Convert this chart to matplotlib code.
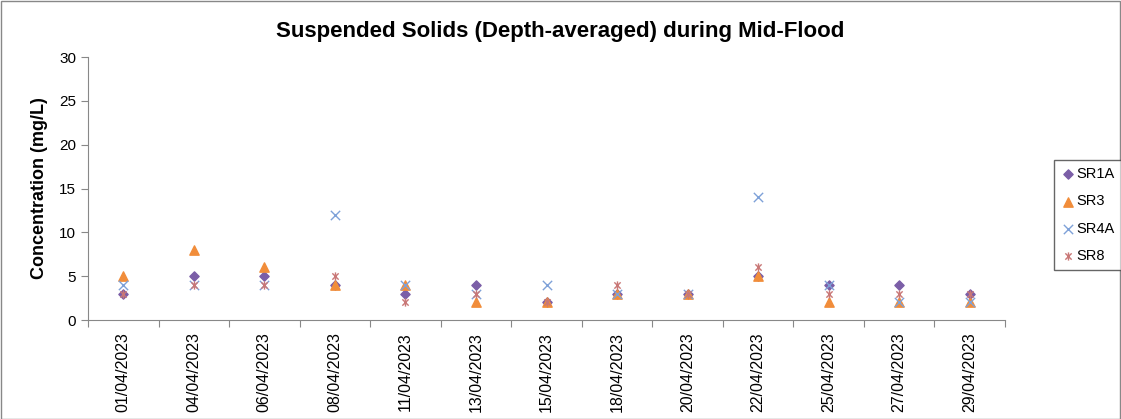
import numpy as np
import matplotlib
matplotlib.use('Agg')
import matplotlib.pyplot as plt
from matplotlib.path import Path
from matplotlib.patches import Rectangle

# ========================= DADOS =========================
dates = ["01/04/2023", "04/04/2023", "06/04/2023", "08/04/2023", "11/04/2023",
         "13/04/2023", "15/04/2023", "18/04/2023", "20/04/2023", "22/04/2023",
         "25/04/2023", "27/04/2023", "29/04/2023"]
sr1a = [3, 5, 5, 4, 3, 4, 2, 3, 3, 5, 4, 4, 3]
sr3 = [5, 8, 6, 4, 4, 2, 2, 3, 3, 5, 2, 2, 2]
sr4a = [4, 4, 4, 12, 4, 3, 4, 3, 3, 14, 4, 2, 2]
sr8 = [3, 4, 4, 5, 2, 3, 2, 4, 3, 6, 3, 3, 3]

# Excel "star" marker: x com traço vertical
star = Path([(-1, -1), (1, 1), (-1, 1), (1, -1), (0, -1.3), (0, 1.3)],
            [Path.MOVETO, Path.LINETO, Path.MOVETO, Path.LINETO, Path.MOVETO, Path.LINETO])

plt.rcParams['font.family'] = ['Liberation Sans', 'DejaVu Sans']

fig = plt.figure(figsize=(11.21, 4.19), dpi=100)
ax = fig.add_axes([88 / 1121, 1 - 320 / 419, 917 / 1121, 263 / 419])

x = np.arange(len(dates))
ax.scatter(x, sr1a, marker='D', s=22, color='#7B5EA7', label='SR1A', zorder=3)
ax.scatter(x, sr3, marker='^', s=45, color='#F18D3A', label='SR3', zorder=3)
ax.scatter(x, sr4a, marker='x', s=45, color='#7EA1D8', linewidths=1.0, label='SR4A', zorder=4)
ax.scatter(x, sr8, marker=star, s=35, color='#C97877', linewidths=1.0, label='SR8', zorder=4)

ax.set_xlim(-0.5, len(dates) - 0.5)
ax.set_ylim(0, 30)
ax.set_yticks(range(0, 31, 5))
ax.set_xticks(np.arange(-0.5, len(dates), 1.0))
ax.set_xticklabels([])
ax.set_xticks(x, minor=True)
ax.set_xticklabels(dates, minor=True, rotation=90, fontsize=11.5)
ax.tick_params(axis='x', which='minor', length=0, pad=9)
ax.tick_params(axis='x', which='major', length=5, color='#888888', direction='out')
ax.tick_params(axis='y', length=5, color='#888888', labelsize=11)

for side in ['top', 'right']:
    ax.spines[side].set_visible(False)
for side in ['left', 'bottom']:
    ax.spines[side].set_color('#888888')

ax.set_ylabel("Concentration (mg/L)", fontsize=13, fontweight='bold', labelpad=8)
fig.text(0.5, 1 - 31 / 419, "Suspended Solids (Depth-averaged) during Mid-Flood",
         ha='center', va='center', fontsize=16, fontweight='bold')

leg = fig.legend(loc='center left', bbox_to_anchor=(1054 / 1121, 1 - 215 / 419),
                 fontsize=10.5, frameon=True, fancybox=False, handletextpad=0.1,
                 handlelength=0.9, borderpad=0.5, labelspacing=0.9, borderaxespad=0)
leg.get_frame().set_edgecolor('#404040')
leg.get_frame().set_linewidth(1.0)

fig.patches.append(Rectangle((0.001, 0.001), 0.998, 0.997, transform=fig.transFigure,
                             fill=False, edgecolor='#888888', linewidth=1.0))

plt.savefig("out.png", dpi=100)
plt.close()
